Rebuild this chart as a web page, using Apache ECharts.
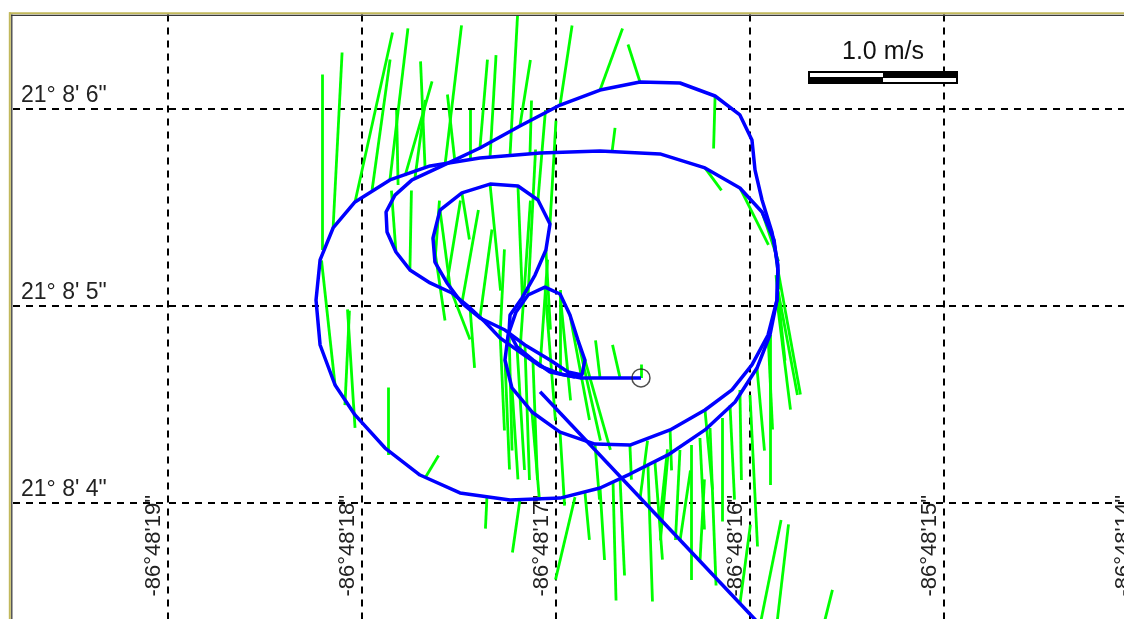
<!DOCTYPE html>
<html><head><meta charset="utf-8">
<script src="https://cdn.jsdelivr.net/npm/echarts@6/dist/echarts.min.js"></script>
<style>html,body{margin:0;padding:0;background:#fff;overflow:hidden}#c{position:absolute;left:-26px;top:0;width:1226px;height:720px}</style>
</head><body><div id="c"></div><script>
// Axis ticks (seconds of arc)
const lonTicks = [-19, -18, -17, -16, -15, -14];
const lonTickLabels = ['-86°48\'19"', '-86°48\'18"', '-86°48\'17"', '-86°48\'16"', '-86°48\'15"', '-86°48\'14"'];
const latTicks = [4, 5, 6];
const latTickLabels = ['21° 8\' 4"', '21° 8\' 5"', '21° 8\' 6"'];

// Boat track segments (longitude seconds, negative = west; latitude seconds)
const track1Lon = [-16.562,-16.722,-16.876,-16.979,-17.082,-17.186,-17.289,-17.366,-17.443,-17.536,-17.649,-17.753,-17.825,-17.871,-17.876,-17.830,-17.742,-17.598,-17.392,-17.186,-16.979,-16.773,-16.567,-16.361,-16.180,-16.052,-15.990,-15.974,-15.938,-15.887,-15.856,-15.861,-15.907,-15.990,-16.093,-16.232,-16.412,-16.619,-16.799,-16.979,-17.124,-17.227,-17.263,-17.247,-17.206,-17.144,-17.057,-16.979,-16.928,-16.887,-16.851,-16.866,-16.938,-17.031];
const track1Lat = [4.635,4.635,4.635,4.655,4.695,4.766,4.838,4.919,4.990,5.066,5.117,5.183,5.274,5.376,5.477,5.563,5.640,5.706,5.802,5.914,6.020,6.096,6.137,6.132,6.066,5.970,5.843,5.690,5.538,5.376,5.208,5.030,4.853,4.701,4.574,4.472,4.371,4.294,4.299,4.360,4.462,4.584,4.726,4.853,4.970,5.056,5.096,5.061,4.954,4.827,4.726,4.650,4.665,4.726];
const track2Lon = [-17.031,-17.160,-17.263,-17.392,-17.485,-17.562,-17.624,-17.634,-17.598,-17.485,-17.340,-17.196,-17.093,-17.031,-17.052,-17.108,-17.175,-17.237,-17.242,-17.201,-17.119,-17.031,-16.902];
const track2Lat = [4.726,4.802,4.878,4.939,5.015,5.117,5.223,5.345,5.487,5.574,5.619,5.609,5.538,5.416,5.284,5.157,5.041,4.954,4.868,4.792,4.726,4.665,4.640];
const track3Lon = [-15.861,-15.856,-15.876,-15.938,-16.052,-16.232,-16.464,-16.773,-17.082,-17.392,-17.649,-17.856,-18.036,-18.149,-18.216,-18.237,-18.216,-18.139,-18.036,-17.881,-17.701,-17.495,-17.237,-16.979,-16.773,-16.619,-16.423,-16.232,-16.077,-15.964,-15.897,-15.861];
const track3Lat = [5.030,5.183,5.335,5.477,5.599,5.701,5.772,5.787,5.777,5.751,5.711,5.640,5.528,5.396,5.234,5.030,4.802,4.599,4.447,4.279,4.142,4.051,4.015,4.025,4.076,4.147,4.244,4.371,4.513,4.685,4.853,5.030];
const track4Lon = [-17.082, -15.845];
const track4Lat = [4.565, 3.274];

// Velocity vectors: origin (lon, lat seconds) and east / north speed (m/s)
const vecLon = [-18.206,-18.149,-18.036,-17.948,-17.856,-17.778,-17.675,-17.572,-17.443,-17.340,-17.237,-17.134,-16.979,-16.773,-16.567,-16.711,-16.180,-16.232,-16.052,-15.938,-18.139,-18.036,-17.866,-17.675,-17.356,-17.186,-16.902,-16.706,-16.526,-16.423,-16.304,-16.206,-16.144,-16.000,-15.897,-16.052,-15.948,-15.871,-15.691,-16.258,-16.361,-16.464,-16.567,-15.856,-15.861,-15.866,-15.907,-15.964,-17.624,-17.562,-17.485,-17.392,-17.289,-17.186,-17.082,-16.979,-17.144,-17.052,-17.263,-17.227,-17.124,-16.979,-16.799,-17.057,-16.979,-16.928,-16.887,-16.851,-17.242,-17.201,-17.119,-17.485,-17.340,-17.196,-17.598,-17.634,-17.753,-17.825,-17.536,-17.443,-16.773,-16.670,-16.562,-16.619,
  -17.814,-17.727,-17.521,-16.670,-16.490,-16.361,-16.258,-16.103,-16.052,-16.773,-16.851,-17.160,-17.289,-17.031,-17.093,-17.392,-17.186,-18.088,-15.876,-15.856,-16.232,-16.412];
const vecLat = [5.284,5.396,5.528,5.589,5.640,5.660,5.701,5.716,5.751,5.756,5.766,5.777,6.020,6.096,6.137,5.782,6.066,5.701,5.599,5.477,4.599,4.381,4.244,4.127,4.030,4.015,4.030,4.107,4.193,4.244,4.294,4.381,4.431,4.548,4.853,3.487,3.381,3.305,3.102,3.701,3.807,3.914,4.020,5.081,5.030,5.157,4.853,4.685,5.223,5.117,5.015,4.939,4.838,4.766,4.695,4.655,5.056,5.284,4.726,4.584,4.462,4.360,4.299,5.096,5.061,4.954,4.827,4.726,4.868,4.792,4.726,5.574,5.619,5.609,5.487,5.345,5.183,5.274,5.066,4.990,4.635,4.635,4.635,4.294,
  5.614,5.650,5.731,4.127,4.208,4.269,4.330,4.497,4.574,4.076,4.056,4.802,4.878,5.416,5.538,5.802,5.914,4.497,5.335,5.183,4.472,4.371];
const vecEast = [0,0.06,0.25,0.12,0.12,0.18,-0.03,0.11,0,0.04,0.05,0.01,0.08,0.15,-0.08,0.02,-0.01,0.11,0.19,0.11,-0.09,-0.05,0,0.09,-0.01,-0.05,-0.13,0.02,0.03,-0.05,0,0.04,0,0.05,0,0.07,0.14,0.09,0.15,0.03,0.07,0.05,0.05,0.13,0.09,0.06,0.03,0.05,0.03,0.09,0.11,0.08,0.03,0.07,0.05,0,0.05,0.03,0.03,0.04,0.05,0.03,0.03,0.07,0.07,0.13,0.15,0.17,0.02,0.05,0.03,0.05,0.07,0.03,0.07,0.08,0.01,-0.03,0.12,0.03,-0.03,-0.05,0,0.01,
  -0.01,0.07,-0.05,0.03,0.05,-0.03,0.03,0.03,0.01,0.03,0.03,0.03,0.03,0.04,0.05,0.05,0.07,0.03,0.04,0.15,0.05,0.01];
const vecNorth = [1.17,1.17,1.13,0.87,1.01,0.63,0.71,0.93,0.32,0.68,0.93,0.35,0.53,0.41,0.25,0.16,-0.35,-0.15,-0.38,-0.33,0.83,0.79,0.45,0.15,-0.21,-0.35,-0.55,-0.79,-0.91,-0.57,-0.90,-1.05,-0.69,-1.01,-1.0,0.53,0.70,0.77,0.60,0.55,0.47,0.47,0.39,-0.70,-0.73,-0.57,-0.63,-0.55,0.41,0.55,0.62,0.59,0.59,1.01,0.71,0.56,0.97,-0.53,-0.73,-0.61,-0.59,-0.49,-0.37,-0.89,-0.71,-0.70,-0.67,-0.60,-0.79,-0.82,-0.80,-0.31,-0.71,-0.76,-0.53,-0.55,0.53,0.41,-0.31,-0.40,0.25,0.22,0.09,-0.23,
  0.50,0.52,0.45,-0.65,-0.65,-0.60,-0.61,-0.63,-0.60,-0.48,-0.32,-0.90,-0.67,0.69,0.60,0.59,0.44,0.63,-0.33,-0.83,-0.53,-0.27];

// Vector scale: arc-seconds drawn per 1 m/s
const scaleSpeed = 1.0;
const arcsecPerMsLon = 0.7732;
const arcsecPerMsLat = 0.7614;
const scaleBarLon = -15.701, scaleBarLat = 6.193;

const chart = echarts.init(document.getElementById('c'), null, {renderer: 'canvas'});
const FONT = "'Liberation Sans', Arial, sans-serif";
const X0 = 26; // page-to-container x shift

function trackSeries(lon, lat) {
  return {type: 'line', data: lon.map((x, i) => [x, lat[i]]), symbol: 'none', showSymbol: false,
    lineStyle: {color: '#0000ff', width: 3.5}, z: 4, silent: true, animation: false};
}
const vecData = vecLon.map((x, i) => ({coords: [[x, vecLat[i]],
  [x + vecEast[i] * arcsecPerMsLon, vecLat[i] + vecNorth[i] * arcsecPerMsLat]]}));

function pick(ticks, labels, v) {
  for (let i = 0; i < ticks.length; i++) if (Math.abs(v - ticks[i]) < 1e-6) return labels[i];
  return '';
}

chart.setOption({
  animation: false,
  backgroundColor: '#ffffff',
  grid: {left: 0, right: 62, top: 14.44, bottom: 20},
  xAxis: {type: 'value', min: -20, max: -14, interval: 1, position: 'bottom', offset: -205,
    axisLine: {show: false}, axisTick: {show: false},
    splitLine: {show: true, showMinLine: false, lineStyle: {color: '#000', width: 2, type: [7, 6]}},
    axisLabel: {show: true, rotate: 90, margin: 0, fontSize: 22, fontFamily: FONT, color: '#222',
      verticalAlign: 'bottom', padding: [0, 0, 3, 0],
      formatter: v => pick(lonTicks, lonTickLabels, v)}
  },
  yAxis: {type: 'value', min: 3, max: 6.48, interval: 1, position: 'left', offset: -47,
    axisLine: {show: false}, axisTick: {show: false},
    splitLine: {show: true, showMinLine: false, showMaxLine: false, lineStyle: {color: '#000', width: 2, type: [7, 6]}},
    axisLabel: {show: true, inside: true, margin: 0, fontSize: 23, fontFamily: FONT, color: '#222',
      verticalAlign: 'bottom', align: 'left', padding: [0, 0, 2, 0],
      formatter: v => pick(latTicks, latTickLabels, v)}
  },
  series: [
    {type: 'lines', coordinateSystem: 'cartesian2d', data: vecData, silent: true,
      lineStyle: {color: '#00ff00', width: 2.8, opacity: 1, curveness: 0}, z: 3},
    trackSeries(track1Lon, track1Lat),
    trackSeries(track2Lon, track2Lat),
    trackSeries(track3Lon, track3Lat),
    trackSeries(track4Lon, track4Lat),
    {type: 'scatter', data: [[track1Lon[0], track1Lat[0]]], symbol: 'circle', symbolSize: 18, silent: true,
      itemStyle: {color: 'rgba(255,255,255,0)', borderColor: '#222', borderWidth: 1.5}, z: 6}
  ]
});

// Scale bar sized from the same vector scale
const p0 = chart.convertToPixel({gridIndex: 0}, [scaleBarLon, scaleBarLat]);
const p1 = chart.convertToPixel({gridIndex: 0}, [scaleBarLon + scaleSpeed * arcsecPerMsLon, scaleBarLat]);
const bx = p0[0], by = p0[1], bw = p1[0] - p0[0], bh = 13, half = bw / 2;
chart.setOption({
  graphic: [
    {type: 'rect', shape: {x: 0, y: 0, width: 1300, height: 12}, style: {fill: '#fff'}, z: 100, silent: true},
    {type: 'rect', shape: {x: 0, y: 0, width: X0 + 9, height: 720}, style: {fill: '#fff'}, z: 100, silent: true},
    {type: 'line', shape: {x1: X0 + 9, y1: 13.3, x2: 1300, y2: 13.3}, style: {stroke: '#c2b95c', lineWidth: 2}, z: 101, silent: true},
    {type: 'line', shape: {x1: X0 + 9.8, y1: 12.3, x2: X0 + 9.8, y2: 720}, style: {stroke: '#c2b95c', lineWidth: 2}, z: 101, silent: true},
    {type: 'line', shape: {x1: X0 + 11, y1: 15.3, x2: 1300, y2: 15.3}, style: {stroke: '#3a3a3a', lineWidth: 1.3}, z: 101, silent: true},
    {type: 'line', shape: {x1: X0 + 11.8, y1: 14.6, x2: X0 + 11.8, y2: 720}, style: {stroke: '#3a3a3a', lineWidth: 1.3}, z: 101, silent: true},
    {type: 'rect', shape: {x: bx, y: by, width: bw, height: bh}, style: {fill: '#000'}, z: 110, silent: true},
    {type: 'rect', shape: {x: bx + 2, y: by + 2, width: half - 2, height: 4}, style: {fill: '#fff'}, z: 111, silent: true},
    {type: 'rect', shape: {x: bx + half, y: by + 7, width: half - 2, height: 4}, style: {fill: '#fff'}, z: 111, silent: true},
    {type: 'text', x: bx + half, y: by - 6, style: {text: scaleSpeed.toFixed(1) + ' m/s', fontSize: 25, fontFamily: FONT,
      fill: '#111', align: 'center', verticalAlign: 'bottom'}, z: 111, silent: true}
  ]
});
</script></body></html>
